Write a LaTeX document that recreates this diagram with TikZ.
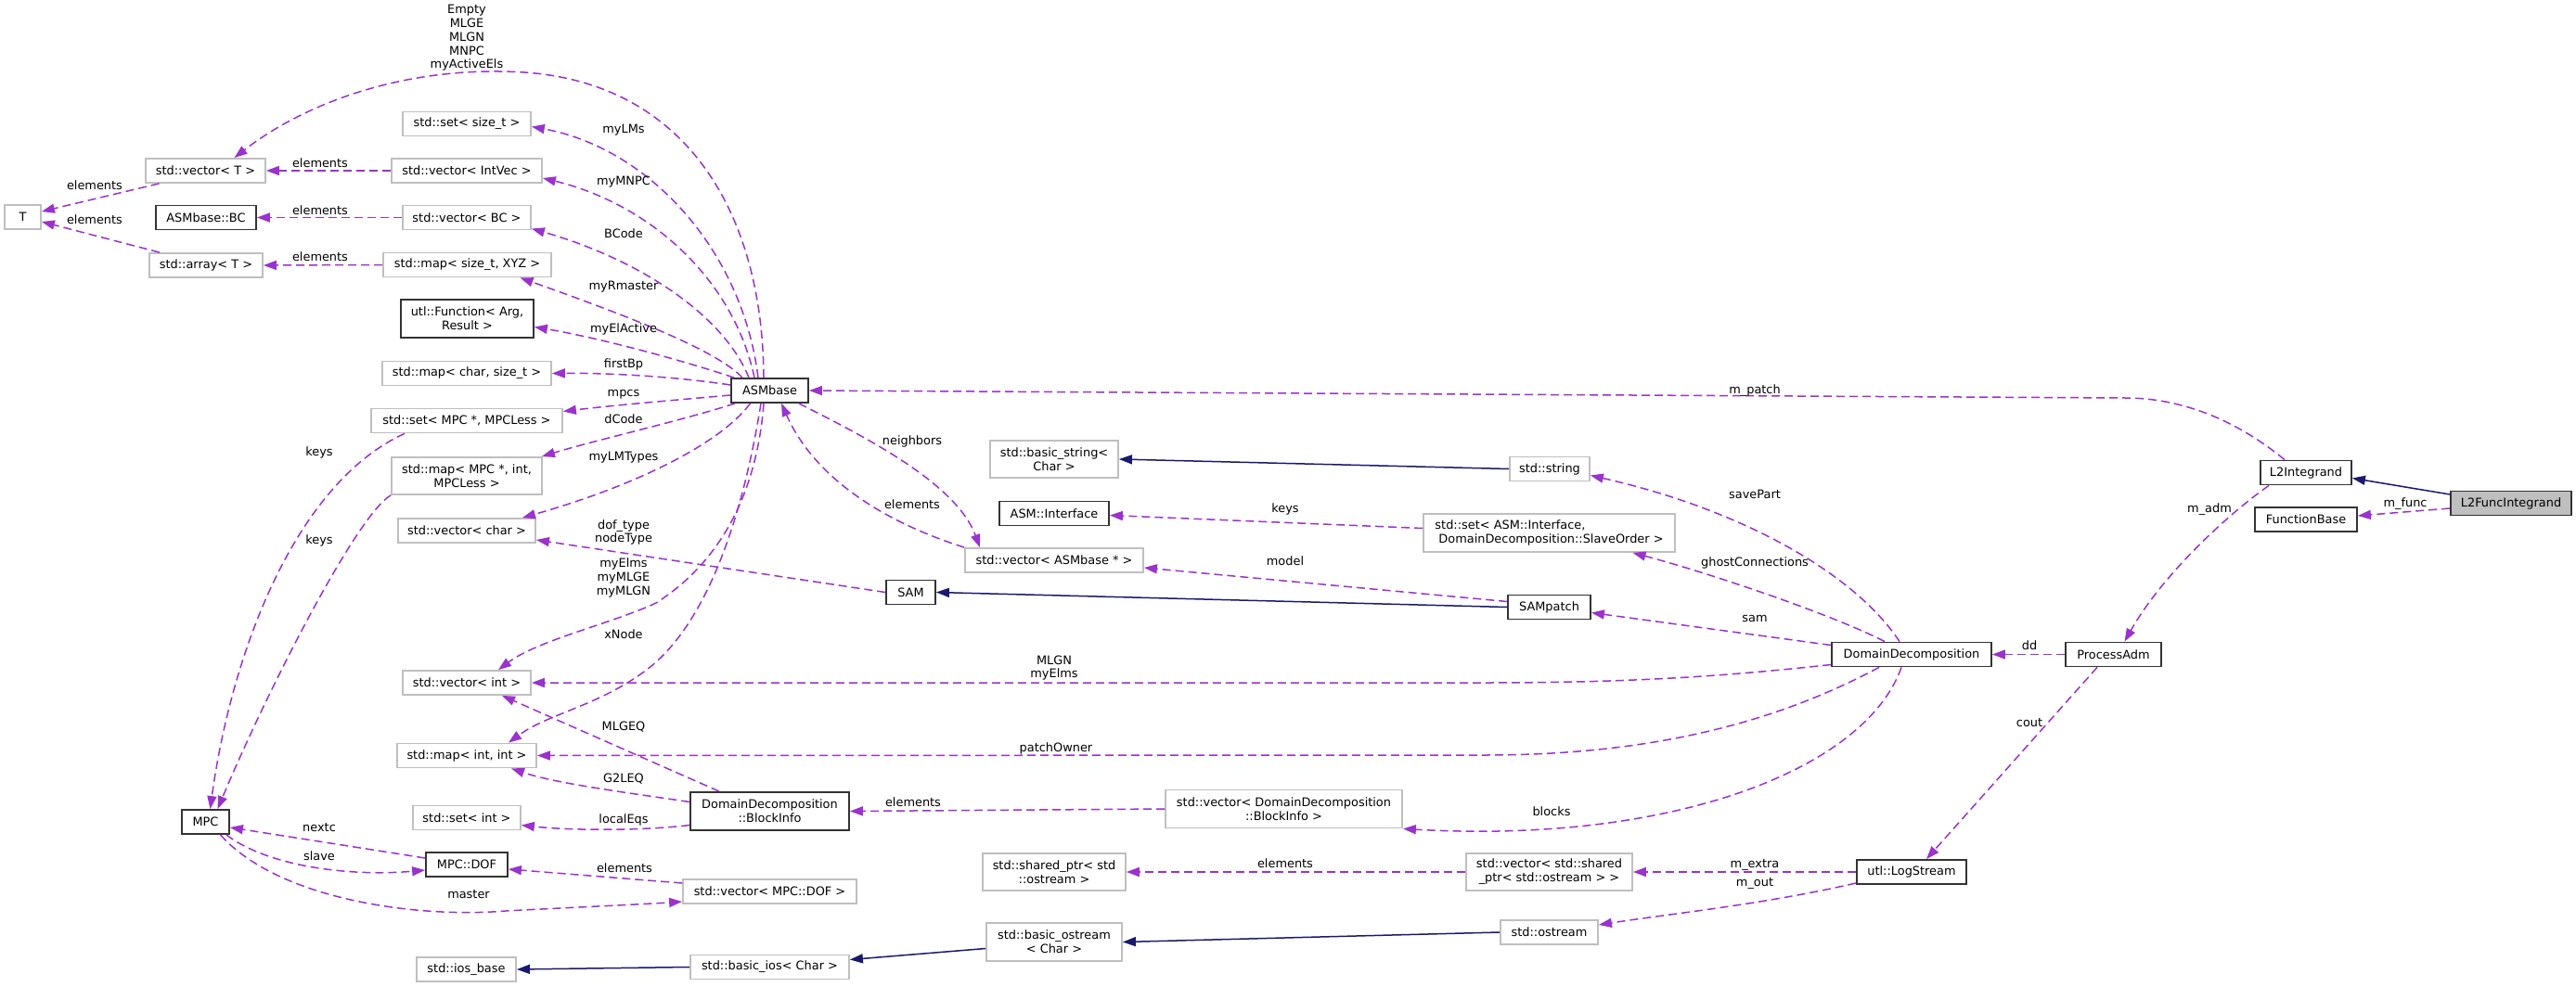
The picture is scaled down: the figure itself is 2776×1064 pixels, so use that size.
\documentclass[tikz,border=0pt]{standalone}
\usepackage{fontspec}
\setmainfont{DejaVu Sans}
\usetikzlibrary{arrows.meta}
\definecolor{usecol}{HTML}{9A32CD}
\definecolor{inhcol}{HTML}{191970}
\definecolor{boxgray}{HTML}{BFBFBF}
\definecolor{boxblack}{HTML}{333333}
\newcommand{\dxf}{\fontsize{12.9pt}{14.8pt}\selectfont}
\tikzset{
  box/.style={draw, line width=1.8pt, minimum height=26pt, inner sep=0pt, font=\dxf, align=center, fill=white, text=black},
  gbox/.style={box, draw=boxgray},
  bbox/.style={box, draw=boxblack},
  lbl/.style={font=\dxf, align=center, inner sep=0pt, text=black},
  use/.style={draw=usecol, line width=1.5pt, dash pattern=on 9pt off 5pt, -{Triangle[length=14pt,width=10pt]}},
  inh/.style={draw=inhcol, line width=1.5pt, -{Triangle[length=14pt,width=10pt]}}
}
\begin{document}
\begin{tikzpicture}[x=1pt,y=-1pt]
\useasboundingbox (0,0) rectangle (2776,1064);

% ---- gray (undocumented) boxes
\node[gbox, minimum width=129] (vT) at (221.5,184) {std::vector< T >};
\node[gbox, minimum width=39] (T) at (24.5,234) {T};
\node[gbox, minimum width=122] (arrT) at (222,286) {std::array< T >};
\node[gbox, minimum width=138] (setsz) at (503,133.5) {std::set< size\_t >};
\node[gbox, minimum width=162] (vIntVec) at (503,184) {std::vector< IntVec >};
\node[gbox, minimum width=138] (vBC) at (503,234.5) {std::vector< BC >};
\node[gbox, minimum width=181] (mapXYZ) at (503.5,285.5) {std::map< size\_t, XYZ >};
\node[gbox, minimum width=182] (mapchar) at (503,402.5) {std::map< char, size\_t >};
\node[gbox, minimum width=206] (setMPC) at (503,453.5) {std::set< MPC *, MPCLess >};
\node[gbox, minimum width=162, minimum height=40] (mapMPC) at (503,513) {std::map< MPC *, int,\\MPCLess >};
\node[gbox, minimum width=148] (vchar) at (503,572) {std::vector< char >};
\node[gbox, minimum width=138] (vint) at (503,736) {std::vector< int >};
\node[gbox, minimum width=150] (mapint) at (503,814.5) {std::map< int, int >};
\node[gbox, minimum width=116] (setint) at (503,881.5) {std::set< int >};
\node[gbox, minimum width=187] (vDOF) at (829.5,961) {std::vector< MPC::DOF >};
\node[gbox, minimum width=107] (iosbase) at (502.5,1045) {std::ios\_base};
\node[gbox, minimum width=171] (basicios) at (829.5,1042.5) {std::basic\_ios< Char >};
\node[gbox, minimum width=146, minimum height=41] (basicostream) at (1136,1015.5) {std::basic\_ostream\\< Char >};
\node[gbox, minimum width=154, minimum height=40] (sharedptr) at (1136,940) {std::shared\_ptr< std\\::ostream >};
\node[gbox, minimum width=192] (vASM) at (1136,604) {std::vector< ASMbase * >};
\node[gbox, minimum width=138, minimum height=40] (basicstring) at (1136,495) {std::basic\_string<\\Char >};
\node[gbox, minimum width=255, minimum height=41] (vBlock) at (1383.5,872) {std::vector< DomainDecomposition\\::BlockInfo >};
\node[gbox, minimum width=86] (string) at (1670,505.5) {std::string};
\node[gbox, minimum width=271, minimum height=41, align=left] (setIface) at (1669.5,574.5) {std::set< ASM::Interface,\\\hspace*{4pt}DomainDecomposition::SlaveOrder >};
\node[gbox, minimum width=179, minimum height=40] (vShared) at (1669.5,940) {std::vector< std::shared\\\_ptr< std::ostream > >};
\node[gbox, minimum width=105] (ostream) at (1669.5,1005) {std::ostream};

% ---- black (documented) boxes
\node[bbox, minimum width=108] (ASMbaseBC) at (222,234.5) {ASMbase::BC};
\node[bbox, minimum width=143, minimum height=41] (Function) at (503.5,343.5) {utl::Function< Arg,\\Result >};
\node[bbox, minimum width=83] (ASMbase) at (829.5,421) {ASMbase};
\node[bbox, minimum width=51] (MPC) at (221.5,886) {MPC};
\node[bbox, minimum width=88] (MPCDOF) at (503,932) {MPC::DOF};
\node[bbox, minimum width=171, minimum height=41] (BlockInfo) at (829.5,874.5) {DomainDecomposition\\::BlockInfo};
\node[bbox, minimum width=53] (SAM) at (981.5,638.5) {SAM};
\node[bbox, minimum width=118] (ASMIface) at (1136,553.5) {ASM::Interface};
\node[bbox, minimum width=89] (SAMpatch) at (1669.5,654.5) {SAMpatch};
\node[bbox, minimum width=172] (DD) at (2060,705.5) {DomainDecomposition};
\node[bbox, minimum width=118] (LogStream) at (2060,940) {utl::LogStream};
\node[bbox, minimum width=103] (ProcessAdm) at (2277.5,705.5) {ProcessAdm};
\node[bbox, minimum width=98] (L2Integrand) at (2485,509.5) {L2Integrand};
\node[bbox, minimum width=110] (FunctionBase) at (2485,560) {FunctionBase};
\node[bbox, minimum width=130, fill=boxgray] (L2FuncIntegrand) at (2706,542.5) {L2FuncIntegrand};

% ---- inheritance
\draw[inh] ([yshift=9.5]L2FuncIntegrand.west) -- ([yshift=-6]L2Integrand.east);
\draw[inh] (ostream.west) -- (basicostream.east);
\draw[inh] ([yshift=-7]basicostream.west) -- ([yshift=8]basicios.east);
\draw[inh] (basicios.west) -- (iosbase.east);
\draw[inh] (SAMpatch.west) -- (SAM.east);
\draw[inh] (string.west) -- (basicstring.east);

% ---- usage
\draw[use] ([yshift=-5.5]L2FuncIntegrand.west) -- ([yshift=4]FunctionBase.east);
\draw[use] ([xshift=-23]L2Integrand.north) .. controls (2400,445) and (2340,429) .. (2290,429) -- (ASMbase.east);
\draw[use] ([xshift=-40]L2Integrand.south) .. controls (2400,555) and (2330,620) .. ([xshift=12]ProcessAdm.north);
\draw[use] (ProcessAdm.west) -- (DD.east);
\draw[use] ([xshift=-17.5]ProcessAdm.south) -- ([xshift=16]LogStream.north);
\draw[use] (LogStream.west) -- (vShared.east);
\draw[use] ([yshift=-12]LogStream.west) .. controls (1900,975) and (1800,985) .. ([yshift=8]ostream.east);
\draw[use] (vShared.west) -- (sharedptr.east);
\draw[use] ([xshift=-13]DD.north) .. controls (2000,620) and (1880,550) .. ([yshift=-7]string.east);
\draw[use] ([xshift=-29]DD.north) .. controls (1980,665) and (1850,620) .. ([xshift=90]setIface.south);
\draw[use] ([yshift=10]DD.west) -- ([yshift=-6]SAMpatch.east);
\draw[use] ([yshift=-11]DD.west) .. controls (1850,730) and (1750,736) .. (1600,736) -- (vint.east);
\draw[use] ([xshift=-35]DD.south) .. controls (1930,770) and (1800,814) .. (1600,814) -- (mapint.east);
\draw[use] ([xshift=-11]DD.south) .. controls (2010,830) and (1800,910) .. (vBlock.south east);
\draw[use] (vBlock.west) -- (BlockInfo.east);
\draw[use] ([xshift=-54.5]BlockInfo.north) -- ([xshift=38]vint.south);
\draw[use] ([yshift=10]BlockInfo.west) .. controls (680,855) and (600,845) .. ([xshift=48]mapint.south);
\draw[use] ([yshift=-15]BlockInfo.west) .. controls (700,895) and (620,896) .. ([yshift=-8]setint.east);
\draw[use] ([yshift=6]SAMpatch.west) -- ([yshift=-8]vASM.east);
\draw[use] ([yshift=5]setIface.west) -- ([yshift=-2]ASMIface.east);
\draw[use] (SAM.west) -- ([yshift=-10]vchar.east);
\draw[use] (vASM.north west) .. controls (960,565) and (880,520) .. ([xshift=12.5]ASMbase.south);
\draw[use] ([xshift=-11]ASMbase.south east) .. controls (930,470) and (1030,520) .. ([xshift=-80]vASM.north);

% ASMbase fan
\draw[use] ([xshift=-6.5]ASMbase.north) .. controls (822,230) and (740,90) .. (565,78) .. controls (440,70) and (330,110) .. ([xshift=31]vT.north);
\draw[use] ([xshift=-12.5]ASMbase.north) .. controls (800,270) and (700,160) .. ([yshift=-3]setsz.east);
\draw[use] ([xshift=-16.5]ASMbase.north) .. controls (790,300) and (700,220) .. ([yshift=-8]vIntVec.east);
\draw[use] ([xshift=-22.5]ASMbase.north) .. controls (780,340) and (690,280) .. ([yshift=-12]vBC.east);
\draw[use] ([xshift=-29.5]ASMbase.north) .. controls (770,375) and (660,335) .. ([xshift=57]mapXYZ.south);
\draw[use] ([xshift=4]ASMbase.north west) .. controls (740,390) and (650,365) .. ([yshift=-9]Function.east);
\draw[use] ([yshift=6]ASMbase.west) .. controls (720,405) and (650,402) .. (mapchar.east);
\draw[use] ([yshift=-5]ASMbase.west) .. controls (720,432) and (660,437) .. ([yshift=10]setMPC.east);
\draw[use] ([xshift=5]ASMbase.south west) .. controls (740,452) and (640,475) .. ([xshift=-1]mapMPC.north east);
\draw[use] ([xshift=-21]ASMbase.south) .. controls (775,480) and (680,525) .. ([xshift=60]vchar.north);
\draw[use] ([xshift=-6.5]ASMbase.south) .. controls (815,540) and (770,610) .. (707,650) .. controls (660,672) and (580,690) .. ([xshift=34]vint.north);
\draw[use] ([xshift=-9.5]ASMbase.south) .. controls (800,560) and (760,680) .. (690,727) .. controls (640,762) and (590,770) .. ([xshift=45]mapint.north);

% left part
\draw[use] ([xshift=-50]vT.south) -- ([yshift=6]T.east);
\draw[use] ([xshift=-50]arrT.north) -- ([yshift=-5]T.east);
\draw[use] (vIntVec.west) -- (vT.east);
\draw[use] (vBC.west) -- (ASMbaseBC.east);
\draw[use] (mapXYZ.west) -- (arrT.east);
\draw[use] ([xshift=-67]setMPC.south) .. controls (320,520) and (250,700) .. ([xshift=5]MPC.north);
\draw[use] (mapMPC.south west) .. controls (385,555) and (290,740) .. ([xshift=13]MPC.north);
\draw[use] ([yshift=7]MPCDOF.west) -- ([yshift=-6]MPC.east);
\draw[use] ([xshift=-4]MPC.south east) .. controls (290,935) and (380,945) .. ([yshift=-6]MPCDOF.west);
\draw[use] ([xshift=16]MPC.south) .. controls (300,970) and (450,990) .. (545,982) .. controls (620,978) and (690,975) .. ([yshift=-11]vDOF.west);
\draw[use] ([yshift=9]vDOF.west) -- ([yshift=-5]MPCDOF.east);

% ---- labels
\node[lbl] (lActive) at (503,41) {Empty\\MLGE\\MLGN\\MNPC\\myActiveEls};
\node[lbl] (lel1) at (102,200) {elements};
\node[lbl] (lel2) at (102,237) {elements};
\node[lbl] (lel3) at (345,176) {elements};
\node[lbl] (lel4) at (345,227) {elements};
\node[lbl] (lel5) at (345,277) {elements};
\node[lbl] (lLMs) at (672,140) {myLMs};
\node[lbl] (lMNPC) at (672,196) {myMNPC};
\node[lbl] (lBCode) at (672,252) {BCode};
\node[lbl] (lRm) at (672,309) {myRmaster};
\node[lbl] (lElA) at (672,355) {myElActive};
\node[lbl] (lfBp) at (672,393) {firstBp};
\node[lbl] (lmpcs) at (672,425) {mpcs};
\node[lbl] (ldCode) at (672,452) {dCode};
\node[lbl] (lLMT) at (672,493) {myLMTypes};
\node[lbl] (lkeys1) at (344,488) {keys};
\node[lbl] (lkeys2) at (344,583) {keys};
\node[lbl] (ldof) at (672,574) {dof\_type\\nodeType};
\node[lbl] (lElms) at (672,623) {myElms\\myMLGE\\myMLGN};
\node[lbl] (lxNode) at (672,684) {xNode};
\node[lbl] (lMLGEQ) at (672,784) {MLGEQ};
\node[lbl] (lG2LEQ) at (672,840) {G2LEQ};
\node[lbl] (llocal) at (672,884) {localEqs};
\node[lbl] (lnextc) at (344,892) {nextc};
\node[lbl] (lslave) at (344,923) {slave};
\node[lbl] (lmaster) at (505,964) {master};
\node[lbl] (lel6) at (673,936) {elements};
\node[lbl] (lneigh) at (983,476) {neighbors};
\node[lbl] (lel7) at (983,544) {elements};
\node[lbl] (lkeys3) at (1385,549) {keys};
\node[lbl] (lmodel) at (1385,605) {model};
\node[lbl] (lMLGN) at (1136,720) {MLGN\\myElms};
\node[lbl] (lpatchO) at (1138,807) {patchOwner};
\node[lbl] (lel8) at (984,865) {elements};
\node[lbl] (lel9) at (1385,931) {elements};
\node[lbl] (lmpatch) at (1891,421) {m\_patch};
\node[lbl] (lsave) at (1891,533) {savePart};
\node[lbl] (lghost) at (1891,607) {ghostConnections};
\node[lbl] (lsam) at (1891,667) {sam};
\node[lbl] (lblocks) at (1672,875) {blocks};
\node[lbl] (lextra) at (1891,932) {m\_extra};
\node[lbl] (lout) at (1891,952) {m\_out};
\node[lbl] (ldd) at (2187,696) {dd};
\node[lbl] (lcout) at (2187,779) {cout};
\node[lbl] (ladm) at (2381,549) {m\_adm};
\node[lbl] (lfunc) at (2592,543) {m\_func};
\end{tikzpicture}
\end{document}
